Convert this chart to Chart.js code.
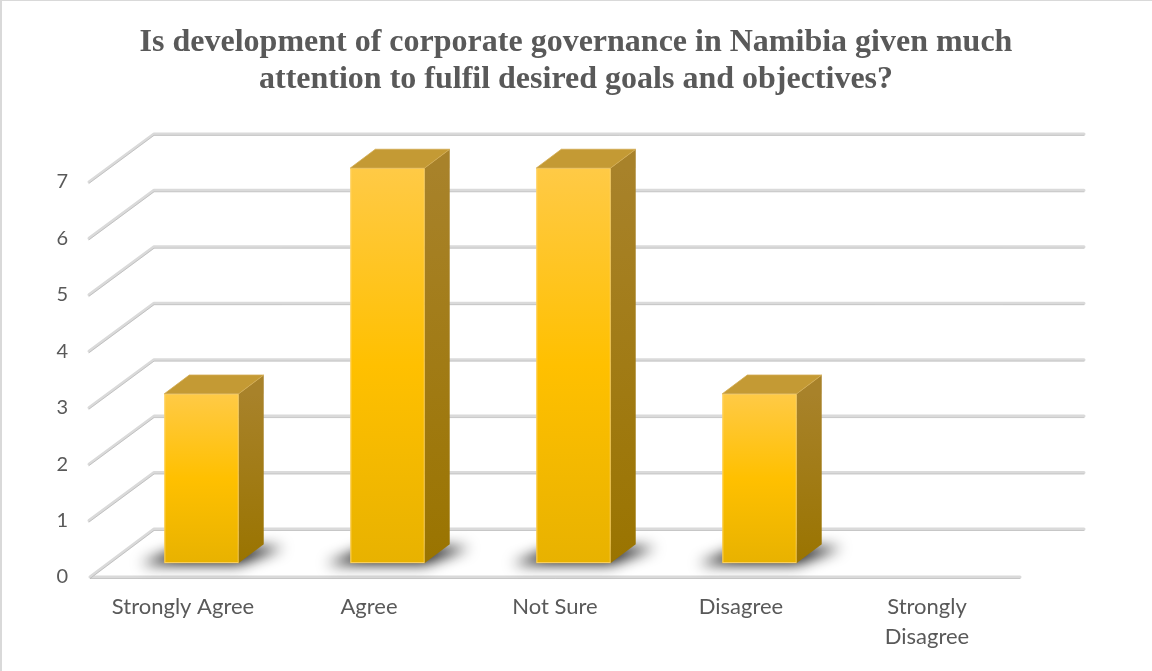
<!DOCTYPE html>
<html>
<head>
<meta charset="utf-8">
<script src="https://cdn.jsdelivr.net/npm/chart.js@4.4.1/dist/chart.umd.min.js"></script>
<style>
  html, body { margin: 0; padding: 0; background: #ffffff; }
  #wrap { width: 1152px; height: 671px; position: relative; }
</style>
</head>
<body>
<div id="wrap"><canvas id="c" width="1152" height="671"></canvas></div>
<script>
// Survey responses
const categories = ['Strongly Agree', 'Agree', 'Not Sure', 'Disagree', ['Strongly', 'Disagree']];
const responses = [3, 7, 7, 3, 0];
const yTickValues = [0, 1, 2, 3, 4, 5, 6, 7];
const titleLines = [
  'Is development of corporate governance in Namibia given much',
  'attention to fulfil desired goals and objectives?'
];

// Depth of the 3D box (back wall offset from the front plane)
const DX = 64, DY = -48;
const FRONT = 0.29, BACK = 0.68;   // bar front / back positions inside the depth

function groove(ctx, pts) {
  ctx.save();
  ctx.lineJoin = 'round';
  ctx.lineCap = 'round';
  ctx.beginPath();
  pts.forEach((p, i) => i ? ctx.lineTo(p[0], p[1]) : ctx.moveTo(p[0], p[1]));
  ctx.strokeStyle = '#dadada';
  ctx.lineWidth = 3;
  ctx.stroke();
  ctx.beginPath();
  pts.forEach((p, i) => i ? ctx.lineTo(p[0], p[1] + 1.5) : ctx.moveTo(p[0], p[1] + 1.5));
  ctx.strokeStyle = 'rgba(170,170,170,0.55)';
  ctx.lineWidth = 1;
  ctx.stroke();
  ctx.restore();
}

function poly(ctx, pts) {
  ctx.beginPath();
  pts.forEach((p, i) => i ? ctx.lineTo(p[0], p[1]) : ctx.moveTo(p[0], p[1]));
  ctx.closePath();
}

const box3d = {
  id: 'box3d',
  beforeDraw(chart) {
    const ctx = chart.ctx;
    ctx.save();
    ctx.fillStyle = '#d9d9d9';
    ctx.fillRect(0, 0, 2, chart.height);
    ctx.fillRect(0, 0, chart.width, 1);
    ctx.restore();
  },
  beforeDatasetsDraw(chart) {
    const ctx = chart.ctx;
    const { left, right } = chart.chartArea;
    const ys = chart.scales.y;
    // walls: side diagonals + back wall lines
    yTickValues.forEach(v => {
      const y = ys.getPixelForValue(v);
      if (v === 0) {
        groove(ctx, [[right, y], [left, y], [left + DX, y + DY], [right + DX, y + DY]]);
      } else {
        groove(ctx, [[left - 1, y], [left + DX, y + DY], [right + DX, y + DY]]);
      }
    });

    const meta = chart.getDatasetMeta(0);
    const catW = (right - left) / categories.length;
    const w = catW * 0.4;
    const d = BACK - FRONT;
    const base = ys.getPixelForValue(0);

    // floor shadows
    meta.data.forEach((el, i) => {
      const v = responses[i];
      if (!v) return;
      const xl = el.x - w / 2 + FRONT * DX, xr = xl + w;
      const yb = base + FRONT * DY;
      ctx.save();
      ctx.shadowColor = 'rgba(0,0,0,0.95)';
      ctx.shadowBlur = 14;
      ctx.shadowOffsetX = 3000;
      ctx.shadowOffsetY = 0;
      ctx.fillStyle = '#000';
      const off = -3000;
      poly(ctx, [
        [xl - 24 + off, yb + 1],
        [xr + off, yb + 1],
        [xr + d * DX + 20 + off, yb + d * DY + 3],
        [xl + d * DX - 6 + off, yb + d * DY + 3]
      ]);
      ctx.fill();
      ctx.restore();
    });

    // bars
    meta.data.forEach((el, i) => {
      const v = responses[i];
      if (!v) return;
      const xl = el.x - w / 2 + FRONT * DX, xr = xl + w;
      const yt = ys.getPixelForValue(v) + FRONT * DY;
      const yb = base + FRONT * DY;
      const ox = d * DX, oy = d * DY;

      ctx.save();
      // front face
      const gf = ctx.createLinearGradient(0, yt, 0, yb);
      gf.addColorStop(0, '#FFCA46');
      gf.addColorStop(0.5, '#FFC000');
      gf.addColorStop(1, '#E8B200');
      ctx.fillStyle = gf;
      ctx.fillRect(xl, yt, w, yb - yt);
      ctx.strokeStyle = 'rgba(255,214,110,0.9)';
      ctx.lineWidth = 1;
      ctx.strokeRect(xl + 0.5, yt + 0.5, w - 1, yb - yt - 1);

      // side face
      const gs = ctx.createLinearGradient(0, yt, 0, yb);
      gs.addColorStop(0, '#A8822A');
      gs.addColorStop(1, '#9A7400');
      ctx.fillStyle = gs;
      poly(ctx, [[xr, yt], [xr + ox, yt + oy], [xr + ox, yb + oy], [xr, yb]]);
      ctx.fill();

      // top face
      ctx.fillStyle = '#C49A34';
      poly(ctx, [[xl, yt], [xr, yt], [xr + ox, yt + oy], [xl + ox, yt + oy]]);
      ctx.fill();
      ctx.strokeStyle = 'rgba(210,170,80,0.8)';
      ctx.stroke();
      ctx.restore();
    });
  }
};

new Chart(document.getElementById('c'), {
  type: 'bar',
  data: {
    labels: categories,
    datasets: [{
      data: responses,
      backgroundColor: 'rgba(0,0,0,0)',
      borderWidth: 0
    }]
  },
  options: {
    responsive: false,
    animation: false,
    devicePixelRatio: 1,
    layout: { padding: 0 },
    plugins: {
      legend: { display: false },
      tooltip: { enabled: false },
      title: {
        display: true,
        text: titleLines,
        color: '#595959',
        font: { family: 'Liberation Serif', size: 32, weight: 'bold', lineHeight: 1.17 },
        padding: { top: 24, bottom: 83 }
      }
    },
    scales: {
      x: {
        grid: { display: false, drawTicks: false },
        border: { display: false },
        ticks: {
          color: '#595959',
          font: { family: 'Lato', size: 22, lineHeight: 1.36 },
          padding: 15,
          maxRotation: 0,
          autoSkip: false
        },
        afterFit(s) { s.height = 94; }
      },
      y: {
        min: 0,
        max: 7,
        grid: { display: false, drawTicks: false },
        border: { display: false },
        ticks: {
          stepSize: 1,
          color: '#595959',
          font: { family: 'Lato', size: 20 },
          padding: 22
        },
        afterFit(s) { s.width = 90; }
      },
      // reserves the room on the right taken by the back wall depth
      depthRoom: {
        type: 'linear',
        position: 'right',
        grid: { display: false, drawTicks: false },
        border: { display: false },
        ticks: { display: false },
        afterFit(s) { s.width = 132; }
      }
    }
  },
  plugins: [box3d]
});
</script>
</body>
</html>
